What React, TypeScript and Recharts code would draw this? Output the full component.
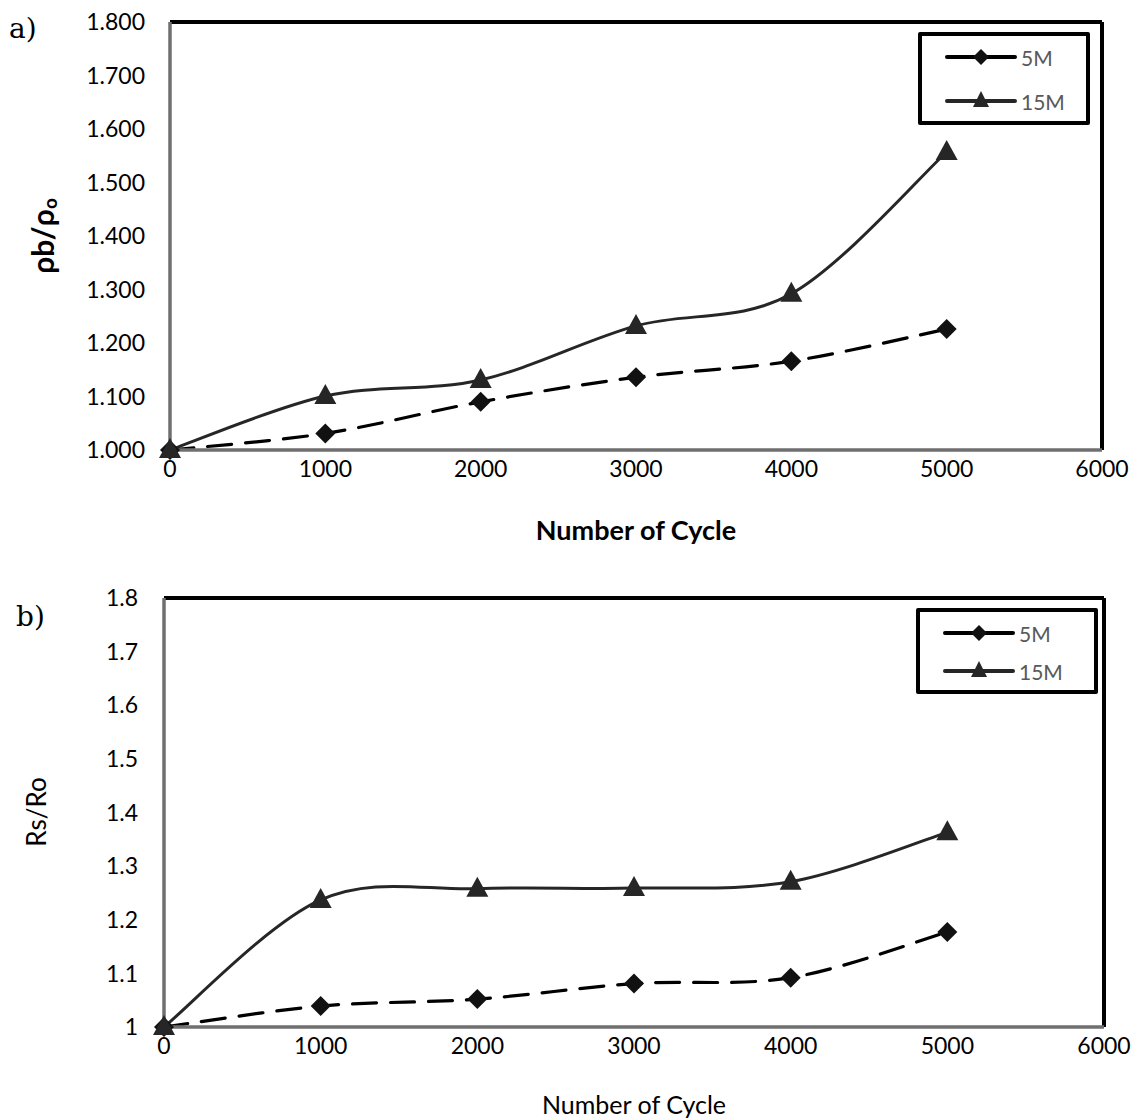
import React from "react";
import { LineChart, Line, XAxis, YAxis, ReferenceLine, Label } from "recharts";

const cycles = [0, 1000, 2000, 3000, 4000, 5000];
const xTicks = [0, 1000, 2000, 3000, 4000, 5000, 6000];
const yTicks = [1.0, 1.1, 1.2, 1.3, 1.4, 1.5, 1.6, 1.7, 1.8];

// a) rho_b / rho_o
const rho5M = [1.0, 1.031, 1.09, 1.136, 1.166, 1.226];
const rho15M = [1.0, 1.101, 1.131, 1.232, 1.292, 1.557];

// b) Rs / Ro
const rs5M = [1.0, 1.039, 1.052, 1.081, 1.092, 1.177];
const rs15M = [1.0, 1.237, 1.258, 1.259, 1.271, 1.363];

const topData = cycles.map((c, i) => ({ cycle: c, m5: rho5M[i], m15: rho15M[i] }));
const bottomData = cycles.map((c, i) => ({ cycle: c, m5: rs5M[i], m15: rs15M[i] }));

const FONT = "Lato, 'Noto Sans', sans-serif";

// excel-like smoothed line (catmull-rom through the points)
const smoothCurve: any = (context: any) => {
  let pts: number[][] = [];
  return {
    areaStart() {},
    areaEnd() {},
    lineStart() {
      pts = [];
    },
    point(x: number, y: number) {
      pts.push([+x, +y]);
    },
    lineEnd() {
      if (!pts.length) return;
      context.moveTo(pts[0][0], pts[0][1]);
      for (let i = 0; i < pts.length - 1; i++) {
        const p0 = pts[Math.max(i - 1, 0)];
        const p1 = pts[i];
        const p2 = pts[i + 1];
        const p3 = pts[Math.min(i + 2, pts.length - 1)];
        context.bezierCurveTo(
          p1[0] + (p2[0] - p0[0]) / 6,
          p1[1] + (p2[1] - p0[1]) / 6,
          p2[0] - (p3[0] - p1[0]) / 6,
          p2[1] - (p3[1] - p1[1]) / 6,
          p2[0],
          p2[1]
        );
      }
    },
  };
};

const diamondDot = (props: any) => {
  const { cx, cy, index } = props;
  if (cx == null || cy == null) return <g key={`d-${index}`} />;
  const r = 10;
  return (
    <path
      key={`d-${index}`}
      d={`M${cx},${cy - r}L${cx + r},${cy}L${cx},${cy + r}L${cx - r},${cy}Z`}
      fill="#111"
    />
  );
};

const triangleDot = (props: any) => {
  const { cx, cy, index } = props;
  if (cx == null || cy == null) return <g key={`t-${index}`} />;
  return (
    <path
      key={`t-${index}`}
      d={`M${cx},${cy - 12}L${cx + 11},${cy + 8}L${cx - 11},${cy + 8}Z`}
      fill="#262626"
    />
  );
};

function LegendBox({ left, top, width, height, gap }: { left: number; top: number; width: number; height: number; gap: number }) {
  const row = (label: string, marker: "d" | "t") => (
    <div style={{ display: "flex", alignItems: "center", height: 28 }}>
      <svg width={72} height={24} style={{ display: "block" }}>
        <line x1={2} y1={12} x2={70} y2={12} stroke={marker === "d" ? "#000" : "#262626"} strokeWidth={4} strokeLinecap="round" />
        {marker === "d" ? (
          <path d="M36,4L44,12L36,20L28,12Z" fill="#111" />
        ) : (
          <path d="M36,2L44,18L28,18Z" fill="#262626" />
        )}
      </svg>
      <span style={{ marginLeft: 4, fontFamily: FONT, fontSize: 21, color: "#595959" }}>{label}</span>
    </div>
  );
  return (
    <div
      style={{
        position: "absolute",
        left,
        top,
        boxSizing: "border-box",
        width,
        height,
        border: "4px solid #000",
        borderRadius: 2,
        background: "#fff",
        padding: "7px 0 0 23px",
      }}
    >
      {row("5M", "d")}
      <div style={{ height: gap }} />
      {row("15M", "t")}
    </div>
  );
}

const tickStyle = { fontFamily: FONT, fontSize: 23, fill: "#000" };
const axisLineStyle = { stroke: "#6f6f6f", strokeWidth: 3.5 };

function App() {
  return (
    <div
      style={{
        position: "absolute",
        left: 0,
        top: 0,
        width: 1134,
        height: 1119,
        background: "#fff",
        overflow: "hidden",
      }}
    >
      <span style={{ position: "absolute", left: 9, top: 12, fontFamily: "'DejaVu Serif', serif", fontSize: 28 }}>a)</span>
      <span style={{ position: "absolute", left: 16, top: 600, fontFamily: "'DejaVu Serif', serif", fontSize: 28 }}>b)</span>

      <div style={{ position: "absolute", left: 0, top: 0 }}>
        <LineChart width={1134} height={550} data={topData} margin={{ top: 22, right: 32, left: 0, bottom: 0 }}>
          <XAxis
            dataKey="cycle"
            type="number"
            domain={[0, 6000]}
            ticks={xTicks}
            tick={tickStyle}
            tickSize={0}
            tickMargin={11}
            axisLine={axisLineStyle}
            height={100}
          >
            <Label value="Number of Cycle" position="insideBottom" offset={10} fontFamily={FONT} fontSize={27} fontWeight={700} fill="#000" />
          </XAxis>
          <YAxis
            type="number"
            domain={[1, 1.8]}
            ticks={yTicks}
            tickFormatter={(v: number) => v.toFixed(3)}
            tick={tickStyle}
            tickSize={0}
            tickMargin={25}
            axisLine={axisLineStyle}
            width={170}
          >
            <Label
              content={() => (
                <text
                  transform="translate(42,236) rotate(-90)"
                  textAnchor="middle"
                  dominantBaseline="central"
                  fontFamily={FONT}
                  fontSize={30}
                  fontWeight={700}
                  fill="#000"
                >
                  ρb/ρ<tspan fontSize={19} dy={7}>o</tspan>
                </text>
              )}
            />
          </YAxis>
          <ReferenceLine y={1.8} stroke="#000" strokeWidth={4} />
          <ReferenceLine x={6000} stroke="#000" strokeWidth={4} />
          <ReferenceLine x={0} stroke="#d9d9d9" strokeWidth={1} />
          <ReferenceLine y={1} stroke="#d9d9d9" strokeWidth={1} />
          <Line
            dataKey="m5"
            name="5M"
            type={smoothCurve}
            stroke="#000"
            strokeWidth={3.2}
            strokeDasharray="24 14"
            strokeLinecap="round"
            dot={diamondDot}
            activeDot={false}
            isAnimationActive={false}
          />
          <Line
            dataKey="m15"
            name="15M"
            type={smoothCurve}
            stroke="#262626"
            strokeWidth={3}
            dot={triangleDot}
            activeDot={false}
            isAnimationActive={false}
          />
        </LineChart>
        <LegendBox left={918} top={32} width={172} height={93} gap={16} />
      </div>

      <div style={{ position: "absolute", left: 0, top: 560 }}>
        <LineChart width={1134} height={559} data={bottomData} margin={{ top: 38, right: 30, left: 0, bottom: 0 }}>
          <XAxis
            dataKey="cycle"
            type="number"
            domain={[0, 6000]}
            ticks={xTicks}
            tick={tickStyle}
            tickSize={0}
            tickMargin={11}
            axisLine={axisLineStyle}
            height={92}
          >
            <Label value="Number of Cycle" position="insideBottom" offset={5} fontFamily={FONT} fontSize={25} fill="#000" />
          </XAxis>
          <YAxis
            type="number"
            domain={[1, 1.8]}
            ticks={yTicks}
            tickFormatter={(v: number) => String(+v.toFixed(1))}
            tick={tickStyle}
            tickSize={0}
            tickMargin={26}
            axisLine={axisLineStyle}
            width={164}
          >
            <Label
              content={() => (
                <text
                  transform="translate(36,252) rotate(-90)"
                  textAnchor="middle"
                  dominantBaseline="central"
                  fontFamily={FONT}
                  fontSize={26}
                  fill="#000"
                >
                  Rs/Ro
                </text>
              )}
            />
          </YAxis>
          <ReferenceLine y={1.8} stroke="#000" strokeWidth={4} />
          <ReferenceLine x={6000} stroke="#000" strokeWidth={4} />
          <ReferenceLine x={0} stroke="#d9d9d9" strokeWidth={1} />
          <ReferenceLine y={1} stroke="#d9d9d9" strokeWidth={1} />
          <Line
            dataKey="m5"
            name="5M"
            type={smoothCurve}
            stroke="#000"
            strokeWidth={3.2}
            strokeDasharray="24 14"
            strokeLinecap="round"
            dot={diamondDot}
            activeDot={false}
            isAnimationActive={false}
          />
          <Line
            dataKey="m15"
            name="15M"
            type={smoothCurve}
            stroke="#262626"
            strokeWidth={3}
            dot={triangleDot}
            activeDot={false}
            isAnimationActive={false}
          />
        </LineChart>
        <LegendBox left={916} top={48} width={182} height={86} gap={10} />
      </div>
    </div>
  );
}

export default App;
